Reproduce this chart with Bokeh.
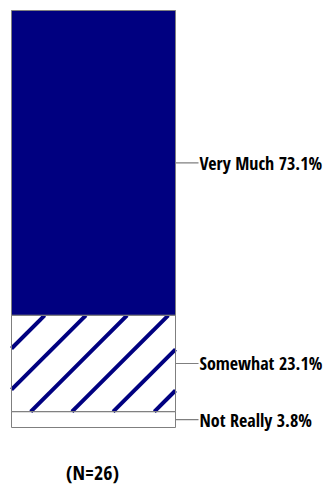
from bokeh.plotting import figure
from bokeh.models import Range1d, ColumnDataSource
from bokeh.core.properties import value
from bokeh.embed import file_html
from bokeh.resources import INLINE

# ---- data ----
categories = ["Not Really", "Somewhat", "Very Much"]
percents = [3.8, 23.1, 73.1]
sample_note = "(N=26)"

# ---- layout constants (pixels) ----
W, H = 328, 489
BAR_TOP_PX, BAR_BOTTOM_PX = 10, 427
scale = (BAR_BOTTOM_PX - BAR_TOP_PX) / 100.0
y_start = -(H - BAR_BOTTOM_PX) / scale
y_end = 100 + BAR_TOP_PX / scale

def to_px(v):
    return BAR_BOTTOM_PX - v * scale

def from_px(py):
    return (BAR_BOTTOM_PX - py) / scale

bar_left, bar_right = 11, 175
line_end = 198
text_x = 199
FONT = "Open Sans Condensed"

p = figure(width=W, height=H, output_backend="svg", toolbar_location=None,
           x_range=Range1d(0, W), y_range=Range1d(y_start, y_end),
           min_border=0, min_border_left=0, min_border_right=0,
           min_border_top=0, min_border_bottom=0)
p.axis.visible = False
p.grid.visible = False
p.outline_line_color = None
p.background_fill_color = "white"
p.border_fill_color = "white"

bottoms, tops = [], []
acc = 0.0
for v in percents:
    bottoms.append(acc)
    acc += v
    tops.append(acc)

fills = ["white", "white", "#000080"]
src = ColumnDataSource(dict(cat=categories, val=percents, bottom=bottoms, top=tops,
                            fill=fills,
                            mid=[(b + t) / 2 for b, t in zip(bottoms, tops)],
                            label=[f"{c} {v}%" for c, v in zip(categories, percents)]))

p.quad(left=bar_left, right=bar_right, bottom="bottom", top="top", source=src,
       fill_color="fill", line_color=None)

# 45-degree hatch lines for the "Somewhat" segment, clipped to its box
i = categories.index("Somewhat")
yt, yb = to_px(tops[i]), to_px(bottoms[i])
spacing = 41.2
u0 = 359.0
hx0, hy0, hx1, hy1 = [], [], [], []
u = u0 - spacing * 10
while u < bar_right + yb + spacing:
    xa, ya = u - yb, yb
    if xa < bar_left:
        xa, ya = bar_left, u - bar_left
    xb, yb2 = u - yt, yt
    if xb > bar_right:
        xb, yb2 = bar_right, u - bar_right
    if xa < xb and ya >= yt and yb2 <= yb:
        hx0.append(xa); hy0.append(from_px(ya)); hx1.append(xb); hy1.append(from_px(yb2))
    u += spacing
p.segment(x0=hx0, y0=hy0, x1=hx1, y1=hy1, line_color="#000080", line_width=4, line_cap="butt")

# segment outlines
p.quad(left=bar_left, right=bar_right, bottom="bottom", top="top", source=src,
       fill_color=None, line_color="#7f7f7f", line_width=1)

p.segment(x0=bar_right, x1=line_end, y0="mid", y1="mid", source=src,
          line_color="#7f7f7f", line_width=1.2)

p.text(x=text_x, y="mid", text="label", source=src,
       text_font=value(FONT), text_font_size="18px", text_color="black",
       text_baseline="middle", text_align="left")

p.text(x=[(bar_left + bar_right) / 2 - 1], y=[from_px(472)], text=[sample_note],
       text_font=value(FONT), text_font_size="20px", text_color="black",
       text_baseline="middle", text_align="center")

open("out.html", "w").write(file_html(p, INLINE))
